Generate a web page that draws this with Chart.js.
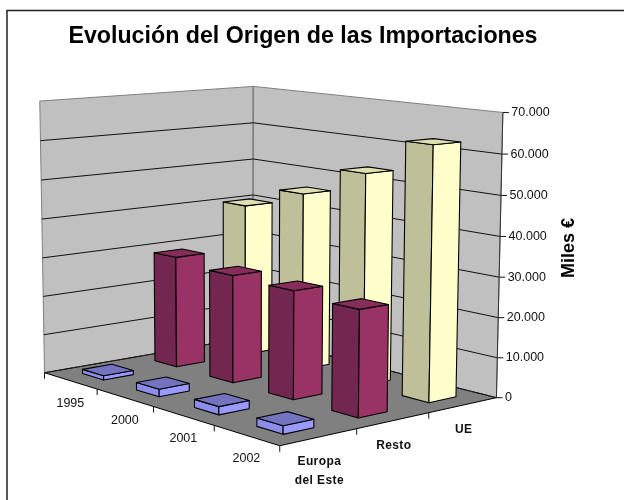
<!DOCTYPE html>
<html>
<head>
<meta charset="utf-8">
<script src="https://cdn.jsdelivr.net/npm/chart.js@4"></script>
<style>
  body { margin: 0; background: #fff; }
  canvas { display: block; }
</style>
</head>
<body>
<canvas id="importChart" width="624" height="500"></canvas>
<script>
const years = ["1995", "2000", "2001", "2002"];
const origins = ["Europa del Este", "Resto", "UE"];
const originLabels = [["Europa", "del Este"], ["Resto"], ["UE"]];

const europaValues = [1100, 1900, 2000, 2000];
const restoValues = [29000, 27500, 27000, 26000];
const ueValues = [40300, 46000, 53600, 62800];

const faceColors = ["#9999FF", "#993366", "#FFFFCC"];
const sideColors = ["#8C8CEA", "#732650", "#BFBF99"];
const topColors = ["#7373C0", "#862D59", "#DFDFB2"];

const fontFamily = "'Liberation Sans', Arial, sans-serif";
const barShare = 0.4;

// Where the corners of the plot box land on the page: u (years), v (origins), h (value), px, py
const viewPins = [
  [0, 0, 0, 44.7, 371.7],
  [1, 0, 0, 279.3, 447],
  [1, 1, 0, 496.7, 396],
  [0, 1, 0, 253, 338],
  [0, 0, 1, 40, 101],
  [0, 1, 1, 253, 86],
  [1, 1, 1, 503, 113]
];

function solveLinear(m, r) {
  const n = r.length;
  for (let c = 0; c < n; c++) {
    let best = c;
    for (let k = c + 1; k < n; k++) if (Math.abs(m[k][c]) > Math.abs(m[best][c])) best = k;
    [m[c], m[best]] = [m[best], m[c]];
    [r[c], r[best]] = [r[best], r[c]];
    for (let k = 0; k < n; k++) {
      if (k === c) continue;
      const f = m[k][c] / m[c][c];
      for (let j = c; j < n; j++) m[k][j] -= f * m[c][j];
      r[k] -= f * r[c];
    }
  }
  return r.map((val, i) => val / m[i][i]);
}

// Least squares fit of a perspective camera to the pins
function fitView(pins) {
  const rows = [];
  const rhs = [];
  pins.forEach(([u, v, h, px, py]) => {
    rows.push([u, v, h, 1, 0, 0, 0, 0, -px * u, -px * v, -px * h]);
    rhs.push(px);
    rows.push([0, 0, 0, 0, u, v, h, 1, -py * u, -py * v, -py * h]);
    rhs.push(py);
  });
  const ata = Array.from({ length: 11 }, (_, i) =>
    Array.from({ length: 11 }, (_, j) => rows.reduce((s, row) => s + row[i] * row[j], 0)));
  const atb = Array.from({ length: 11 }, (_, i) => rows.reduce((s, row, k) => s + row[i] * rhs[k], 0));
  return solveLinear(ata, atb);
}

const cam = fitView(viewPins);

function project(u, v, h) {
  const w = cam[8] * u + cam[9] * v + cam[10] * h + 1;
  return {
    x: (cam[0] * u + cam[1] * v + cam[2] * h + cam[3]) / w,
    y: (cam[4] * u + cam[5] * v + cam[6] * h + cam[7]) / w
  };
}

// The hidden scales give positions as a share of the chart area
function uOf(chart, i) {
  const a = chart.chartArea;
  return (chart.scales.x.getPixelForValue(i) - a.left) / (a.right - a.left);
}
function vOf(chart, i) {
  const a = chart.chartArea;
  return (chart.scales.origin.getPixelForValue(i) - a.left) / (a.right - a.left);
}
function hOf(chart, value) {
  const a = chart.chartArea;
  return (a.bottom - chart.scales.y.getPixelForValue(value)) / (a.bottom - a.top);
}

function face(ctx, pts, fill) {
  ctx.beginPath();
  pts.forEach((p, i) => i ? ctx.lineTo(p.x, p.y) : ctx.moveTo(p.x, p.y));
  ctx.closePath();
  if (fill) {
    ctx.fillStyle = fill;
    ctx.fill();
  }
  ctx.stroke();
}

function segment(ctx, a, b) {
  ctx.beginPath();
  ctx.moveTo(a.x, a.y);
  ctx.lineTo(b.x, b.y);
  ctx.stroke();
}

class Bar3dController extends Chart.BarController {
  draw() {
    const chart = this.chart;
    const ctx = chart.ctx;
    const series = this.index;
    const du = (uOf(chart, 1) - uOf(chart, 0)) * barShare / 2;
    const dv = (vOf(chart, 1) - vOf(chart, 0)) * barShare / 2;
    const vMid = vOf(chart, series);
    ctx.save();
    ctx.strokeStyle = "#000";
    ctx.lineWidth = 1.1;
    ctx.lineJoin = "round";
    this.getDataset().data.forEach((value, i) => {
      const uMid = uOf(chart, i);
      const top = hOf(chart, value);
      const u0 = uMid - du, u1 = uMid + du, v0 = vMid - dv, v1 = vMid + dv;
      face(ctx, [project(u0, v0, 0), project(u1, v0, 0), project(u1, v0, top), project(u0, v0, top)], sideColors[series]);
      face(ctx, [project(u1, v0, 0), project(u1, v1, 0), project(u1, v1, top), project(u1, v0, top)], faceColors[series]);
      face(ctx, [project(u0, v0, top), project(u1, v0, top), project(u1, v1, top), project(u0, v1, top)], topColors[series]);
    });
    ctx.restore();
  }
}
Bar3dController.id = "bar3d";
Bar3dController.defaults = Chart.BarController.defaults;
Bar3dController.overrides = Chart.BarController.overrides;
Chart.register(Bar3dController);

const plotBox = {
  id: "plotBox",
  beforeDraw(chart) {
    const ctx = chart.ctx;
    ctx.save();
    ctx.fillStyle = "#fff";
    ctx.fillRect(0, 0, chart.width, chart.height);
    ctx.strokeStyle = "#222";
    ctx.lineWidth = 1.5;
    ctx.beginPath();
    ctx.moveTo(7, chart.height);
    ctx.lineTo(7, 10.5);
    ctx.lineTo(chart.width, 10.5);
    ctx.stroke();
    ctx.restore();
  },
  beforeDatasetsDraw(chart) {
    const ctx = chart.ctx;
    const A = project(0, 0, 0), B = project(1, 0, 0), C = project(1, 1, 0), D = project(0, 1, 0);
    const At = project(0, 0, 1), Dt = project(0, 1, 1), Ct = project(1, 1, 1);
    ctx.save();
    ctx.lineJoin = "round";

    // walls
    ctx.strokeStyle = "#808080";
    ctx.lineWidth = 1;
    face(ctx, [A, D, Dt, At], "#C0C0C0");
    face(ctx, [D, C, Ct, Dt], "#C0C0C0");
    ctx.lineWidth = 1.5;
    segment(ctx, D, Dt);

    // floor
    ctx.strokeStyle = "#000";
    ctx.lineWidth = 1;
    face(ctx, [A, B, C, D], "#808080");
    ctx.setLineDash([3, 2]);
    ctx.strokeStyle = "#222";
    segment(ctx, A, D);
    segment(ctx, D, C);
    ctx.setLineDash([]);

    // gridlines and value axis
    ctx.strokeStyle = "#111";
    ctx.fillStyle = "#111";
    ctx.font = "12.5px " + fontFamily;
    ctx.textAlign = "left";
    ctx.textBaseline = "middle";
    chart.scales.y.ticks.forEach(tick => {
      const h = hOf(chart, tick.value);
      const right = project(1, 1, h);
      if (tick.value > 0 && tick.value < chart.scales.y.max) {
        const back = project(0, 1, h);
        segment(ctx, project(0, 0, h), back);
        segment(ctx, back, right);
      }
      segment(ctx, right, { x: right.x + 6, y: right.y });
      ctx.fillText(tick.label, right.x + 8.5, right.y);
    });
    ctx.strokeStyle = "#333";
    segment(ctx, C, Ct);

    // year axis
    ctx.strokeStyle = "#111";
    const du = (uOf(chart, 1) - uOf(chart, 0)) / 2;
    ctx.textAlign = "center";
    years.forEach((year, i) => {
      const mid = project(uOf(chart, i), 0, 0);
      ctx.fillText(year, mid.x, mid.y + 23);
      const edge = project(uOf(chart, i) - du, 0, 0);
      segment(ctx, edge, { x: edge.x, y: edge.y + 6 });
    });
    segment(ctx, B, { x: B.x, y: B.y + 6 });

    // origin axis
    const dv = (vOf(chart, 1) - vOf(chart, 0)) / 2;
    ctx.font = "bold 12px " + fontFamily;
    ctx.letterSpacing = "0.4px";
    origins.forEach((name, i) => {
      const mid = project(1, vOf(chart, i), 0);
      originLabels[i].forEach((line, k) => ctx.fillText(line, mid.x + 0.5, mid.y + 25 + k * 19));
      if (i > 0) {
        const edge = project(1, vOf(chart, i) - dv, 0);
        segment(ctx, edge, { x: edge.x, y: edge.y + 6 });
      }
    });
    ctx.letterSpacing = "0px";

    // value axis title
    ctx.translate(569, 248);
    ctx.rotate(-Math.PI / 2);
    ctx.font = "bold 18px " + fontFamily;
    ctx.fillStyle = "#000";
    ctx.fillText("Miles €", 0, 0);
    ctx.restore();
  }
};

new Chart(document.getElementById("importChart"), {
  type: "bar3d",
  data: {
    labels: years,
    datasets: [
      { label: origins[0], data: europaValues },
      { label: origins[1], data: restoValues },
      { label: origins[2], data: ueValues }
    ]
  },
  options: {
    responsive: false,
    animation: false,
    layout: { padding: { right: 18 } },
    plugins: {
      legend: { display: false },
      tooltip: { enabled: false },
      title: {
        display: true,
        text: "Evolución del Origen de las Importaciones",
        color: "#000",
        font: { family: fontFamily, size: 23.2, weight: "bold" },
        padding: { top: 23, bottom: 10 }
      }
    },
    scales: {
      x: { type: "category", display: false, offset: true },
      origin: { type: "category", axis: "x", display: false, offset: true, labels: origins },
      y: {
        type: "linear",
        display: false,
        min: 0,
        max: 70000,
        ticks: {
          stepSize: 10000,
          callback: value => String(value).replace(/\B(?=\d{3}$)/, ".")
        }
      }
    }
  },
  plugins: [plotBox]
});
</script>
</body>
</html>
